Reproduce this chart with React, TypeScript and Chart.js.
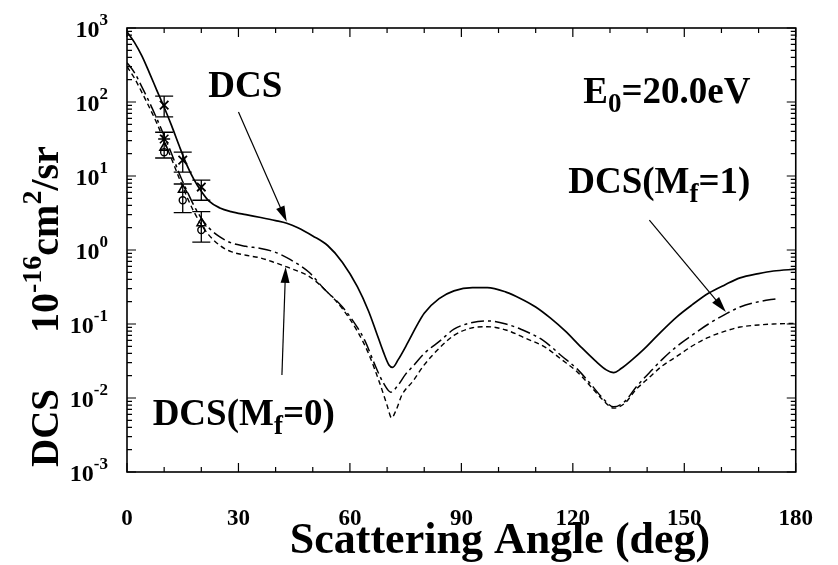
import React, { useEffect, useRef } from 'react';
import { Chart, registerables } from 'chart.js';

Chart.register(...registerables);

const FONT = '"Liberation Serif", "Times New Roman", serif';

// ---- Data ----
const dcsAngles = [0, 2, 4, 6, 8, 10, 12, 14, 16, 18, 20, 22, 25, 28, 32, 36, 40, 43, 46, 50, 54, 58, 62, 65, 67, 69, 70.5, 71.5, 73, 75.5, 78, 80, 84, 88, 93, 97, 102, 106, 110, 114, 118, 122, 126, 129, 131, 133, 136, 139, 143, 148, 152, 156.5, 161, 165, 170, 174, 180];
const dcsValues = [890, 640, 420, 250, 145, 85, 48, 26, 14.5, 9, 6.2, 4.6, 3.7, 3.3, 3.0, 2.75, 2.5, 2.3, 2.0, 1.55, 1.15, 0.68, 0.32, 0.15, 0.08, 0.042, 0.028, 0.026, 0.033, 0.055, 0.095, 0.14, 0.22, 0.28, 0.31, 0.31, 0.27, 0.22, 0.17, 0.12, 0.08, 0.05, 0.032, 0.024, 0.022, 0.025, 0.033, 0.045, 0.072, 0.125, 0.18, 0.26, 0.34, 0.42, 0.48, 0.52, 0.55];

const mf1Angles = [0, 2, 4, 6, 8, 10, 12, 14, 16, 18, 20, 22, 25, 28, 32, 36, 40, 44, 49, 53, 58, 62, 64, 67, 69, 71, 73, 75, 77, 80, 84.4, 88, 93, 97, 102, 106, 112, 117, 121.4, 125, 128, 131, 134, 137, 140.6, 144, 147.8, 152, 156.5, 161, 165, 170, 175];
const mf1Values = [340, 250, 160, 100, 60, 35, 20, 11, 6.5, 4, 2.7, 2.0, 1.5, 1.25, 1.12, 1.05, 0.93, 0.74, 0.5, 0.3, 0.17, 0.09, 0.06, 0.026, 0.016, 0.012, 0.015, 0.021, 0.027, 0.04, 0.06, 0.085, 0.105, 0.11, 0.1, 0.085, 0.06, 0.037, 0.024, 0.015, 0.01, 0.0076, 0.009, 0.014, 0.022, 0.033, 0.049, 0.07, 0.1, 0.135, 0.17, 0.2, 0.22];

const mf0Angles = [0, 2, 4, 6, 8, 10, 12, 14, 16, 18, 20, 22, 25, 28, 32, 36, 40, 43, 49, 53, 58, 62, 65, 68, 70, 71.2, 72.5, 74, 77, 80, 84.4, 88, 93, 97, 102, 107, 112.4, 117, 121.4, 125, 128, 131, 134, 137, 140.6, 144, 147.8, 152, 156.5, 161, 165, 170, 174, 180];
const mf0Values = [300, 210, 135, 85, 52, 30, 17, 9.5, 5.4, 3.3, 2.2, 1.6, 1.15, 0.95, 0.85, 0.78, 0.67, 0.59, 0.44, 0.3, 0.16, 0.08, 0.04, 0.016, 0.008, 0.0054, 0.007, 0.011, 0.017, 0.028, 0.049, 0.07, 0.089, 0.092, 0.083, 0.065, 0.049, 0.033, 0.022, 0.014, 0.0095, 0.0073, 0.0085, 0.013, 0.019, 0.027, 0.036, 0.05, 0.066, 0.08, 0.091, 0.097, 0.1, 0.102];

// experimental points
const expAngles = [10, 15, 20];
const expDcs = [91, 16.4, 7.1];
const expDcsLow = [63, 11.3, 4.7];
const expDcsHigh = [120, 21, 8.8];
const expStarAngles = [10];
const expStar = [31.6];
const expTri = [24, 6.5, 2.3];
const expCirc = [21, 4.7, 1.86];
const expSubLow = [17.5, 3.2, 1.28];
const expSubHigh = [39, 7.8, 3.3];

// axis ticks
const xMajorTicks = [0, 30, 60, 90, 120, 150, 180];
const xMinorTicks = [10, 20, 40, 50, 70, 80, 100, 110, 130, 140, 160, 170];
const yDecades = [-3, -2, -1, 0, 1, 2, 3];
const yTickLabels = ['-3', '-2', '-1', '0', '1', '2', '3'];

// annotation anchors (data coordinates: angle, DCS)
const textDCS = { x: 21.9, y: 117 };
const textE0 = { x: 167.8, y: 97 };
const textMf1 = { x: 167.8, y: 5.9 };
const textMf0 = { x: 6.9, y: 0.0043 };
const arrowDCS = [[30, 73], [43, 2.4]];
const arrowMf1 = [[140.6, 2.54], [161.2, 0.145]];
const arrowMf0 = [[41.7, 0.0204], [42.7, 0.59]];

const zip = (xs: number[], ys: number[]) => xs.map((x, i) => ({ x, y: ys[i] }));

type Part = { t: string; font: string; dy?: number };

function drawRich(ctx: CanvasRenderingContext2D, parts: Part[], x: number, y: number, align: 'left' | 'right' | 'center') {
  let w = 0;
  for (const p of parts) { ctx.font = p.font; w += ctx.measureText(p.t).width; }
  let cx = align === 'right' ? x - w : align === 'center' ? x - w / 2 : x;
  ctx.textAlign = 'left';
  ctx.textBaseline = 'alphabetic';
  for (const p of parts) {
    ctx.font = p.font;
    ctx.fillText(p.t, cx, y + (p.dy || 0));
    cx += ctx.measureText(p.t).width;
  }
}

function drawArrow(ctx: CanvasRenderingContext2D, x1: number, y1: number, x2: number, y2: number) {
  const ang = Math.atan2(y2 - y1, x2 - x1);
  const hl = 16, hw = 4.5;
  ctx.beginPath();
  ctx.moveTo(x1, y1);
  ctx.lineTo(x2 - Math.cos(ang) * hl * 0.8, y2 - Math.sin(ang) * hl * 0.8);
  ctx.lineWidth = 1.2;
  ctx.stroke();
  ctx.beginPath();
  ctx.moveTo(x2, y2);
  ctx.lineTo(x2 - Math.cos(ang) * hl - Math.sin(ang) * hw, y2 - Math.sin(ang) * hl + Math.cos(ang) * hw);
  ctx.lineTo(x2 - Math.cos(ang) * hl + Math.sin(ang) * hw, y2 - Math.sin(ang) * hl - Math.cos(ang) * hw);
  ctx.closePath();
  ctx.fill();
}

const decorPlugin = {
  id: 'decor',
  beforeDatasetsDraw(chart: any) {
    const ctx: CanvasRenderingContext2D = chart.ctx;
    const xs = chart.scales.x, ys = chart.scales.y;
    ctx.save();
    ctx.strokeStyle = '#000';
    ctx.lineWidth = 1.3;
    const bars = (lo: number[], hi: number[]) => {
      expAngles.forEach((a, i) => {
        const px = xs.getPixelForValue(a);
        const p1 = ys.getPixelForValue(lo[i]);
        const p2 = ys.getPixelForValue(hi[i]);
        ctx.beginPath();
        ctx.moveTo(px, p1); ctx.lineTo(px, p2);
        ctx.moveTo(px - 9, p1); ctx.lineTo(px + 9, p1);
        ctx.moveTo(px - 9, p2); ctx.lineTo(px + 9, p2);
        ctx.stroke();
      });
    };
    bars(expDcsLow, expDcsHigh);
    bars(expSubLow, expSubHigh);
    ctx.restore();
  },
  afterDraw(chart: any) {
    const ctx: CanvasRenderingContext2D = chart.ctx;
    const xs = chart.scales.x, ys = chart.scales.y;
    const { left, right, top, bottom } = chart.chartArea;
    ctx.save();
    ctx.strokeStyle = '#000';
    ctx.fillStyle = '#000';
    // frame
    ctx.lineWidth = 1.6;
    ctx.strokeRect(left, top, right - left, bottom - top);
    // x ticks
    ctx.lineWidth = 1.2;
    const xt = (v: number, len: number) => {
      const px = xs.getPixelForValue(v);
      ctx.beginPath();
      ctx.moveTo(px, bottom); ctx.lineTo(px, bottom - len);
      ctx.moveTo(px, top); ctx.lineTo(px, top + len);
      ctx.stroke();
    };
    xMajorTicks.forEach(v => xt(v, 9));
    xMinorTicks.forEach(v => xt(v, 5));
    // y ticks
    const yt = (v: number, len: number) => {
      const py = ys.getPixelForValue(v);
      ctx.beginPath();
      ctx.moveTo(left, py); ctx.lineTo(left + len, py);
      ctx.moveTo(right, py); ctx.lineTo(right - len, py);
      ctx.stroke();
    };
    yDecades.forEach((d, i) => {
      yt(Math.pow(10, d), 9);
      if (i < yDecades.length - 1) {
        for (let k = 2; k <= 9; k++) yt(k * Math.pow(10, d), 5);
      }
    });
    // y tick labels
    const big = `bold 24px ${FONT}`;
    const sup = `bold 17px ${FONT}`;
    yDecades.forEach((d, i) => {
      const py = ys.getPixelForValue(Math.pow(10, d));
      drawRich(ctx, [
        { t: '10', font: big, dy: 0 },
        { t: yTickLabels[i], font: sup, dy: -12 },
      ], 108, py + 9, 'right');
    });
    // y title (rotated)
    ctx.save();
    ctx.translate(58, 0);
    ctx.rotate(-Math.PI / 2);
    const tBig = `bold 39px ${FONT}`;
    const tUnit = `bold 40px ${FONT}`;
    const tSup = `bold 28px ${FONT}`;
    drawRich(ctx, [{ t: 'DCS', font: tBig }], -467, 0, 'left');
    drawRich(ctx, [
      { t: '10', font: tUnit },
      { t: '-16', font: tSup, dy: -17 },
      { t: 'cm', font: tUnit },
      { t: '2', font: tSup, dy: -17 },
      { t: '/sr', font: tUnit },
    ], -333, 0, 'left');
    ctx.restore();
    // x title
    ctx.font = `bold 44px ${FONT}`;
    ctx.textAlign = 'center';
    ctx.textBaseline = 'alphabetic';
    ctx.fillText('Scattering Angle (deg)', 500, 553);
    // annotations
    const aBig = `bold 37px ${FONT}`;
    const aSub = `bold 27px ${FONT}`;
    drawRich(ctx, [{ t: 'DCS', font: aBig }], xs.getPixelForValue(textDCS.x), ys.getPixelForValue(textDCS.y), 'left');
    drawRich(ctx, [
      { t: 'E', font: aBig }, { t: '0', font: aSub, dy: 9 }, { t: '=20.0eV', font: aBig },
    ], xs.getPixelForValue(textE0.x), ys.getPixelForValue(textE0.y), 'right');
    drawRich(ctx, [
      { t: 'DCS(M', font: aBig }, { t: 'f', font: aSub, dy: 9 }, { t: '=1)', font: aBig },
    ], xs.getPixelForValue(textMf1.x), ys.getPixelForValue(textMf1.y), 'right');
    drawRich(ctx, [
      { t: 'DCS(M', font: aBig }, { t: 'f', font: aSub, dy: 9 }, { t: '=0)', font: aBig },
    ], xs.getPixelForValue(textMf0.x), ys.getPixelForValue(textMf0.y), 'left');
    [arrowDCS, arrowMf1, arrowMf0].forEach(a => {
      drawArrow(ctx,
        xs.getPixelForValue(a[0][0]), ys.getPixelForValue(a[0][1]),
        xs.getPixelForValue(a[1][0]), ys.getPixelForValue(a[1][1]));
    });
    ctx.restore();
  },
};

export default function App() {
  const ref = useRef<HTMLCanvasElement>(null);
  useEffect(() => {
    if (!ref.current) return;
    const chart = new Chart(ref.current, {
      type: 'scatter',
      data: {
        datasets: [
          {
            label: 'DCS', data: zip(dcsAngles, dcsValues), showLine: true,
            borderColor: '#000', borderWidth: 1.7, pointRadius: 0, cubicInterpolationMode: 'monotone',
          },
          {
            label: 'DCS(Mf=1)', data: zip(mf1Angles, mf1Values), showLine: true,
            borderColor: '#000', borderWidth: 1.5, pointRadius: 0, borderDash: [13, 4, 3, 4], cubicInterpolationMode: 'monotone',
          },
          {
            label: 'DCS(Mf=0)', data: zip(mf0Angles, mf0Values), showLine: true,
            borderColor: '#000', borderWidth: 1.4, pointRadius: 0, borderDash: [5, 3.5], cubicInterpolationMode: 'monotone',
          },
          {
            label: 'exp DCS', data: zip(expAngles, expDcs), showLine: false,
            pointStyle: 'crossRot', pointRadius: 6, borderColor: '#000', borderWidth: 1.8, backgroundColor: '#000',
          },
          {
            label: 'exp star', data: zip(expStarAngles, expStar), showLine: false,
            pointStyle: 'star', pointRadius: 6, borderColor: '#000', borderWidth: 1.6,
          },
          {
            label: 'exp tri', data: zip(expAngles, expTri), showLine: false,
            pointStyle: 'triangle', pointRadius: 5, borderColor: '#000', borderWidth: 1.5, backgroundColor: 'rgba(0,0,0,0)',
          },
          {
            label: 'exp circ', data: zip(expAngles, expCirc), showLine: false,
            pointStyle: 'circle', pointRadius: 3.5, borderColor: '#000', borderWidth: 1.4, backgroundColor: 'rgba(0,0,0,0)',
          },
        ],
      },
      options: {
        animation: false,
        responsive: false,
        events: [],
        layout: { padding: { top: 28, right: 29, left: 0, bottom: 0 } },
        plugins: { legend: { display: false }, tooltip: { enabled: false } },
        scales: {
          x: {
            type: 'linear', min: 0, max: 180, position: 'bottom',
            grid: { display: false }, border: { display: false },
            ticks: {
              stepSize: 30, color: '#000', padding: 25, maxRotation: 0, autoSkip: false,
              font: { family: FONT, weight: 'bold', size: 23 },
            },
            afterFit: (s: any) => { s.height = 93; },
          },
          y: {
            type: 'logarithmic', min: 1e-3, max: 1e3,
            grid: { display: false }, border: { display: false },
            ticks: { display: false },
            afterFit: (s: any) => { s.width = 127; },
          },
        },
      } as any,
      plugins: [decorPlugin],
    });
    return () => chart.destroy();
  }, []);
  return (
    <div style={{ position: 'fixed', left: 0, top: 0, width: 838, height: 565, background: '#fff' }}>
      <canvas ref={ref} width={838} height={565} style={{ display: 'block' }} />
    </div>
  );
}
